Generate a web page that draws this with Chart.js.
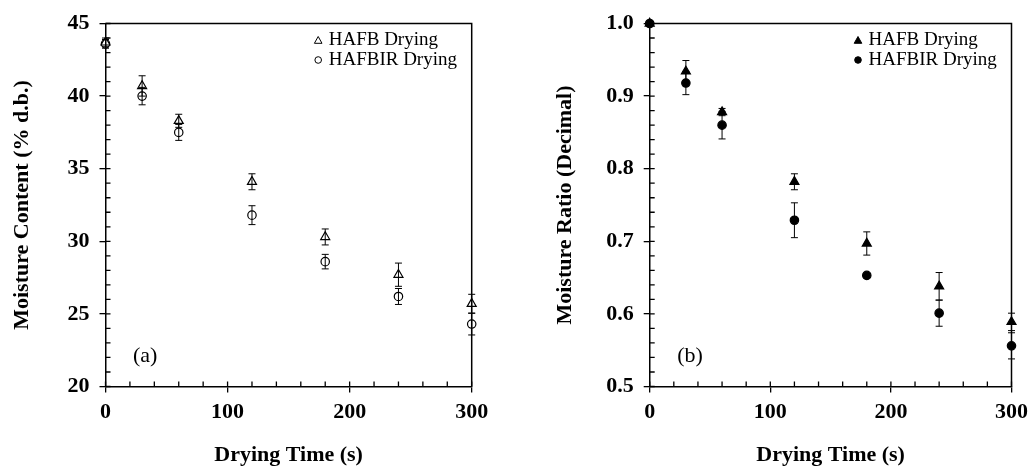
<!DOCTYPE html>
<html>
<head>
<meta charset="utf-8">
<script src="https://cdn.jsdelivr.net/npm/chart.js@4.4.1/dist/chart.umd.min.js"></script>
<style>
  html, body { margin: 0; padding: 0; background: #fff; }
  #wrap { position: relative; width: 1035px; height: 466px; }
  .panel { position: absolute; top: 0; height: 466px; }
  #panelA { left: 0; width: 517px; }
  #panelB { left: 517px; width: 518px; }
</style>
</head>
<body>
<div id="wrap">
  <div class="panel" id="panelA"><canvas id="chartA"></canvas></div>
  <div class="panel" id="panelB"><canvas id="chartB"></canvas></div>
</div>
<script>
// --- Data ---
const dryingTimes = [0, 30, 60, 120, 180, 240, 300];

// (a) moisture content, % d.b.
const mcHafb = [43.7, 40.7, 38.3, 34.1, 30.3, 27.7, 25.7];
const mcHafbErr = [0.3, 0.7, 0.45, 0.55, 0.55, 0.8, 0.65];
const mcHafbir = [43.6, 40.0, 37.5, 31.8, 28.6, 26.2, 24.3];
const mcHafbirErr = [0.3, 0.6, 0.55, 0.65, 0.5, 0.55, 0.75];

// (b) moisture ratio
const mrHafb = [1.0, 0.934, 0.878, 0.782, 0.697, 0.638, 0.589];
const mrHafbErr = [0, 0.015, 0.005, 0.011, 0.016, 0.019, 0.012];
const mrHafbir = [1.0, 0.918, 0.860, 0.729, 0.653, 0.601, 0.556];
const mrHafbirErr = [0, 0.016, 0.019, 0.024, 0.003, 0.018, 0.018];

const seriesLabels = ['HAFB Drying', 'HAFBIR Drying'];
const xTitle = 'Drying Time (s)';

const SERIF = '"Liberation Serif", "Times New Roman", serif';

// error bars, frame, inner ticks, legend and panel letter
const figureExtras = {
  id: 'figureExtras',
  afterDatasetsDraw(chart, args, opts) {
    const { ctx, chartArea: area, scales: { x, y } } = chart;
    ctx.save();
    ctx.strokeStyle = '#000';

    // error bars
    ctx.lineWidth = 1;
    chart.data.datasets.forEach((ds, di) => {
      const meta = chart.getDatasetMeta(di);
      meta.data.forEach((pt, i) => {
        const e = ds.errors[i];
        if (!e) return;
        const v = ds.data[i].y;
        const yTop = y.getPixelForValue(v + e);
        const yBot = y.getPixelForValue(v - e);
        const px = pt.x;
        ctx.beginPath();
        ctx.moveTo(px, yTop); ctx.lineTo(px, yBot);
        ctx.moveTo(px - 3.5, yTop); ctx.lineTo(px + 3.5, yTop);
        ctx.moveTo(px - 3.5, yBot); ctx.lineTo(px + 3.5, yBot);
        ctx.stroke();
      });
    });

    // top and right frame
    ctx.lineWidth = 1.5;
    ctx.beginPath();
    ctx.moveTo(area.left, area.top); ctx.lineTo(area.right, area.top);
    ctx.lineTo(area.right, area.bottom);
    ctx.stroke();

    // inner (minor) ticks
    ctx.lineWidth = 1.3;
    ctx.beginPath();
    const nx = Math.round((x.max - x.min) / opts.xMinor);
    for (let i = 0; i <= nx; i++) {
      const px = x.getPixelForValue(x.min + i * opts.xMinor);
      ctx.moveTo(px, area.bottom); ctx.lineTo(px, area.bottom - 5);
    }
    const ny = Math.round((y.max - y.min) / opts.yMinor);
    for (let i = 0; i <= ny; i++) {
      const py = y.getPixelForValue(y.min + i * opts.yMinor);
      ctx.moveTo(area.left, py); ctx.lineTo(area.left + 5, py);
    }
    ctx.stroke();

    // legend
    ctx.font = '19px ' + SERIF;
    ctx.textBaseline = 'middle';
    ctx.textAlign = 'left';
    ctx.fillStyle = '#000';
    const lx = area.right - 143;
    chart.data.datasets.forEach((ds, di) => {
      const ly = area.top + 17 + di * 19.5;
      ctx.fillText(ds.label, lx, ly);
      const sx = lx - 10.5;
      ctx.lineWidth = 1;
      ctx.beginPath();
      if (ds.pointStyle === 'triangle') {
        ctx.moveTo(sx, ly - 4); ctx.lineTo(sx + 3.8, ly + 2.8); ctx.lineTo(sx - 3.8, ly + 2.8); ctx.closePath();
      } else {
        ctx.arc(sx, ly, 3.3, 0, Math.PI * 2);
      }
      if (opts.filled) ctx.fill();
      ctx.stroke();
    });

    // panel letter
    ctx.font = '22px ' + SERIF;
    ctx.fillText(opts.letter, area.left + 27.5, area.bottom - 30.5);
    ctx.restore();
  }
};

function toPoints(values) {
  return values.map((v, i) => ({ x: dryingTimes[i], y: v }));
}

function makeChart(canvasId, cfg) {
  const dotColor = cfg.filled ? '#000' : 'rgba(0,0,0,0)';
  const datasets = [
    { label: seriesLabels[0], data: toPoints(cfg.hafb), errors: cfg.hafbErr, pointStyle: 'triangle',
      pointRadius: 5.2, borderWidth: 1.2, borderColor: '#000', backgroundColor: dotColor, showLine: false, clip: false },
    { label: seriesLabels[1], data: toPoints(cfg.hafbir), errors: cfg.hafbirErr, pointStyle: 'circle',
      pointRadius: 4.2, borderWidth: 1.2, borderColor: '#000', backgroundColor: dotColor, showLine: false, clip: false },
  ];
  return new Chart(document.getElementById(canvasId), {
    type: 'scatter',
    data: { datasets },
    plugins: [figureExtras],
    options: {
      responsive: true, maintainAspectRatio: false, animation: false,
      layout: { padding: { top: 23.5, right: cfg.padRight, left: 0, bottom: 0 } },
      plugins: {
        legend: { display: false },
        tooltip: { enabled: false },
        figureExtras: { xMinor: 20, yMinor: cfg.yMinor, letter: cfg.letter, filled: cfg.filled },
      },
      scales: {
        x: {
          type: 'linear', min: 0, max: 300,
          afterFit: s => { s.height = 79.5; },
          ticks: { stepSize: 100, padding: 7, color: '#000', font: { family: SERIF, size: 22, weight: 'bold' } },
          grid: { display: true, drawOnChartArea: false, drawTicks: true, tickLength: 6, color: '#000', lineWidth: 1.3 },
          border: { display: true, color: '#000', width: 1.5 },
          title: { display: true, text: xTitle, color: '#000', padding: { top: 0, bottom: 0 },
                   font: { family: SERIF, size: 22, weight: 'bold', lineHeight: 1 } },
        },
        y: {
          min: cfg.yMin, max: cfg.yMax,
          afterFit: s => { s.width = cfg.yWidth; },
          ticks: { stepSize: cfg.yStep, padding: 10, color: '#000',
                   callback: v => cfg.yDecimals ? v.toFixed(cfg.yDecimals) : v,
                   font: { family: SERIF, size: 22, weight: 'bold' } },
          grid: { display: true, drawOnChartArea: false, drawTicks: true, tickLength: 6, color: '#000', lineWidth: 1.3 },
          border: { display: true, color: '#000', width: 1.5 },
          title: { display: true, text: cfg.yTitle, color: '#000', padding: { top: cfg.yTitlePad, bottom: 0 },
                   font: { family: SERIF, size: 22, weight: 'bold' } },
        },
      },
    },
  });
}

makeChart('chartA', {
  hafb: mcHafb, hafbErr: mcHafbErr, hafbir: mcHafbir, hafbirErr: mcHafbirErr,
  yMin: 20, yMax: 45, yStep: 5, yMinor: 1, yDecimals: 0,
  yTitle: 'Moisture Content (% d.b.)', yTitlePad: 8.8,
  yWidth: 105.5, padRight: 45.3, letter: '(a)', filled: false,
});

makeChart('chartB', {
  hafb: mrHafb, hafbErr: mrHafbErr, hafbir: mrHafbir, hafbirErr: mrHafbirErr,
  yMin: 0.5, yMax: 1.0, yStep: 0.1, yMinor: 0.02, yDecimals: 1,
  yTitle: 'Moisture Ratio (Decimal)', yTitlePad: 34.8,
  yWidth: 132.7, padRight: 19.3, letter: '(b)', filled: true,
});
</script>
</body>
</html>
